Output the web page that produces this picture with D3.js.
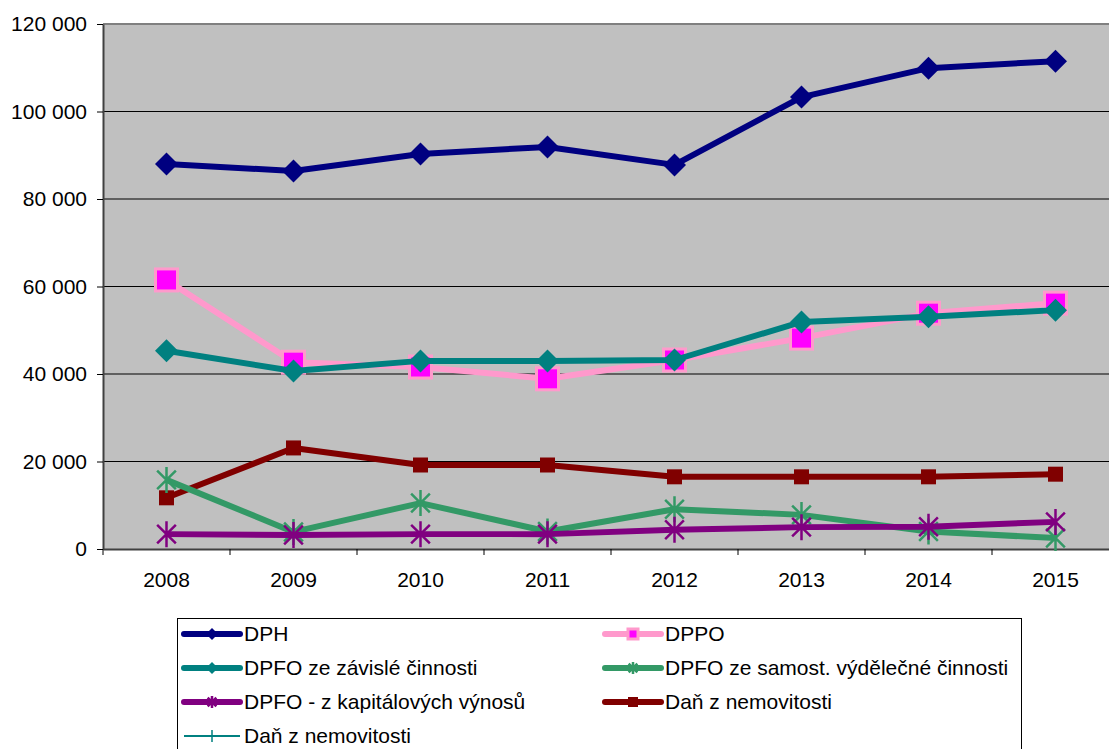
<!DOCTYPE html>
<html>
<head>
<meta charset="utf-8">
<script src="https://cdn.jsdelivr.net/npm/d3@7"></script>
<style>
  body { margin: 0; background: #fff; }
  svg { display: block; font-family: "Liberation Sans", Arial, sans-serif; }
</style>
</head>
<body>
<div id="chart"></div>
<script>
const years = ["2008", "2009", "2010", "2011", "2012", "2013", "2014", "2015"];
const yTicks = [0, 20000, 40000, 60000, 80000, 100000, 120000];

const dph = [88000, 86400, 90300, 91900, 87800, 103300, 109900, 111500];
const dppo = [61500, 42700, 41600, 38900, 43200, 48200, 53900, 56200];
const dpfoZavisle = [45300, 40700, 43000, 43000, 43200, 51900, 53100, 54600];
const dpfoSamost = [15800, 3900, 10500, 4000, 9100, 7800, 4000, 2500];
const dpfoKapital = [3400, 3200, 3400, 3400, 4400, 5000, 5100, 6200];
const danNemovitosti = [11700, 23100, 19200, 19200, 16500, 16500, 16500, 17100];
const danNemovitosti2 = []; // legend only, no points in the chart

const series = [
  {name: "DPH", values: dph, color: "#000080", width: 6, marker: "diamond", fill: "#000080", size: 11.5},
  {name: "DPPO", values: dppo, color: "#ff99cc", width: 6, marker: "square", fill: "#ff00ff", size: 11},
  {name: "DPFO ze závislé činnosti", values: dpfoZavisle, color: "#008080", width: 6, marker: "diamond", fill: "#008080", size: 11.5},
  {name: "DPFO ze samost. výdělečné činnosti", values: dpfoSamost, color: "#339966", width: 6, marker: "star", fill: "#339966", size: 13},
  {name: "DPFO - z kapitálových výnosů", values: dpfoKapital, color: "#800080", width: 6, marker: "star", fill: "#800080", size: 13},
  {name: "Daň z nemovitosti", values: danNemovitosti, color: "#800000", width: 6, marker: "square", fill: "#800000", size: 7.5},
  {name: "Daň z nemovitosti", values: danNemovitosti2, color: "#008080", width: 2, marker: "plus", fill: "#008080", size: 8}
];

const W = 1109, H = 749;
const plot = {left: 103, top: 24, right: 1119, bottom: 549};
const fontSize = 21;

const svg = d3.select("#chart").append("svg")
  .attr("width", W).attr("height", H);

const x = d3.scaleBand().domain(years).range([plot.left, plot.right]);
const y = d3.scaleLinear().domain([0, 120000]).range([plot.bottom, plot.top]);

// plot background
svg.append("rect")
  .attr("x", plot.left).attr("y", plot.top)
  .attr("width", plot.right - plot.left).attr("height", plot.bottom - plot.top)
  .attr("fill", "#c0c0c0");

// gridlines
svg.append("g").selectAll("line")
  .data(yTicks.filter(t => t > 0 && t < 120000))
  .join("line")
  .attr("x1", plot.left).attr("x2", plot.right)
  .attr("y1", d => y(d)).attr("y2", d => y(d))
  .attr("stroke", "#000").attr("stroke-width", 1);

// top border
svg.append("line")
  .attr("x1", plot.left).attr("x2", plot.right)
  .attr("y1", plot.top).attr("y2", plot.top)
  .attr("stroke", "#808080").attr("stroke-width", 2);

const fmt = d => d3.format(",")(d).replace(/,/g, " ");

// y axis
const yAxis = svg.append("g")
  .attr("transform", `translate(${plot.left},0)`)
  .call(d3.axisLeft(y).tickValues(yTicks).tickFormat(fmt).tickSize(6).tickSizeOuter(0));
yAxis.select(".domain").attr("stroke", "#404040").attr("stroke-width", 2);
yAxis.selectAll(".tick line").attr("stroke", "#000");
yAxis.selectAll("text").attr("font-size", fontSize).attr("fill", "#000").attr("x", -16)
  .attr("font-family", "Liberation Sans, Arial, sans-serif");

// x axis: ticks at the band boundaries
const xAxis = svg.append("g")
  .attr("transform", `translate(0,${plot.bottom})`)
  .call(d3.axisBottom(x).tickSize(0).tickSizeOuter(0));
xAxis.select(".domain").attr("stroke", "#404040").attr("stroke-width", 2);
xAxis.selectAll("text").attr("font-size", fontSize).attr("fill", "#000").attr("dy", 0).attr("y", 38)
  .attr("font-family", "Liberation Sans, Arial, sans-serif");
xAxis.selectAll("line.bound")
  .data(years.map(yr => x(yr)))
  .join("line").attr("class", "bound")
  .attr("x1", d => d).attr("x2", d => d)
  .attr("y1", 0).attr("y2", 6)
  .attr("stroke", "#000");

function drawMarker(g, s, cx, cy) {
  const r = s.size;
  if (s.marker === "diamond") {
    g.append("path")
      .attr("d", `M${cx},${cy - r}L${cx + r},${cy}L${cx},${cy + r}L${cx - r},${cy}Z`)
      .attr("fill", s.fill);
  } else if (s.marker === "square") {
    g.append("rect")
      .attr("x", cx - r).attr("y", cy - r).attr("width", 2 * r).attr("height", 2 * r)
      .attr("fill", s.fill)
      .attr("stroke", s.fill === "#ff00ff" ? "#ff99cc" : "none")
      .attr("stroke-width", 3);
  } else if (s.marker === "star") {
    const d = r * 0.72;
    g.append("path")
      .attr("d", `M${cx},${cy - r}V${cy + r}M${cx - d},${cy - d}L${cx + d},${cy + d}M${cx - d},${cy + d}L${cx + d},${cy - d}`)
      .attr("stroke", s.fill).attr("stroke-width", 2.5).attr("fill", "none");
  } else if (s.marker === "plus") {
    g.append("path")
      .attr("d", `M${cx},${cy - r}V${cy + r}M${cx - r},${cy}H${cx + r}`)
      .attr("stroke", s.fill).attr("stroke-width", 1.5).attr("fill", "none");
  }
}

const line = d3.line()
  .x((d, i) => x(years[i]) + x.bandwidth() / 2)
  .y(d => y(d));

const order = [5, 3, 4, 1, 2, 0];
order.forEach(k => {
  const s = series[k];
  const g = svg.append("g");
  g.append("path")
    .datum(s.values)
    .attr("d", line)
    .attr("fill", "none")
    .attr("stroke", s.color)
    .attr("stroke-width", s.width)
    .attr("stroke-linejoin", "round");
  s.values.forEach((v, i) => drawMarker(g, s, x(years[i]) + x.bandwidth() / 2, y(v)));
});

// legend
const legend = svg.append("g");
legend.append("rect")
  .attr("x", 177.5).attr("y", 618.5).attr("width", 844).attr("height", 140)
  .attr("fill", "#fff").attr("stroke", "#000").attr("stroke-width", 1);

series.forEach((s, i) => {
  const col = i % 2, row = Math.floor(i / 2);
  const lx = col === 0 ? 184 : 605;
  const ly = 634 + row * 34;
  const g = legend.append("g");
  g.append("line")
    .attr("x1", lx).attr("x2", lx + 56)
    .attr("y1", ly).attr("y2", ly)
    .attr("stroke", s.color).attr("stroke-width", s.width)
    .attr("stroke-linecap", s.width > 3 ? "round" : "butt");
  const mini = Object.assign({}, s, {size: s.marker === "star" ? 6 : (s.marker === "square" ? 5 : 6)});
  drawMarker(g, mini, lx + 28, ly);
  g.append("text")
    .attr("x", lx + 60).attr("y", ly + 7)
    .attr("font-size", fontSize)
    .text(s.name);
});
</script>
</body>
</html>
